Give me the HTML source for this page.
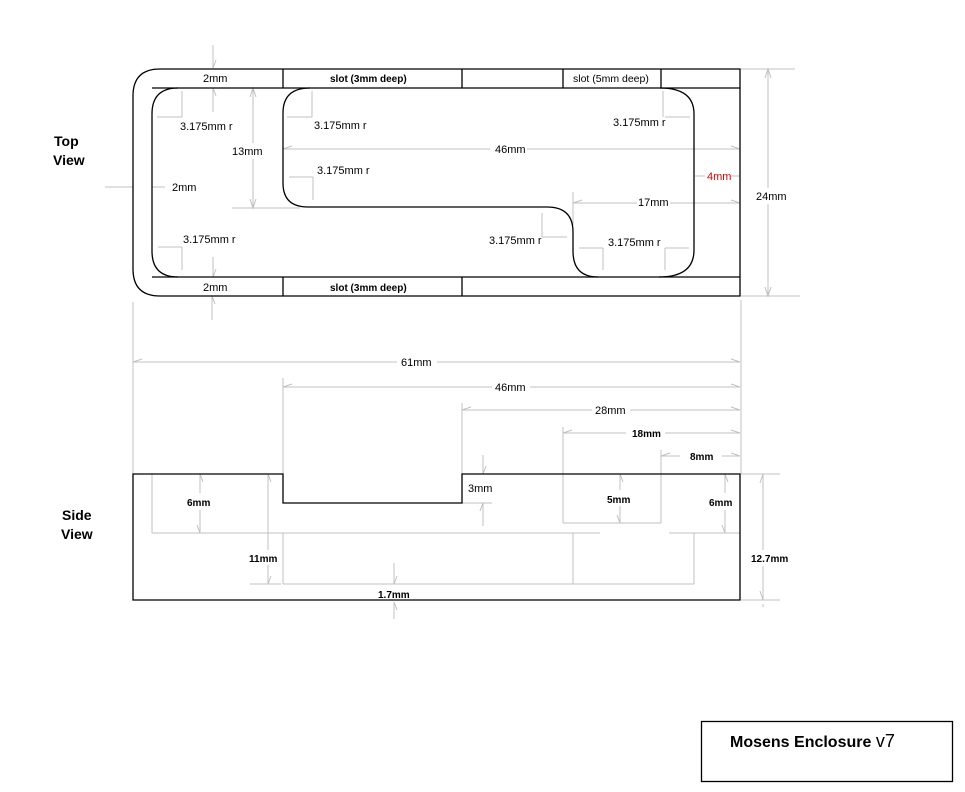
<!DOCTYPE html>
<html><head><meta charset="utf-8"><style>
html,body{margin:0;padding:0;background:#fff;}
svg{display:block;}
text{font-family:"Liberation Sans",sans-serif;font-size:11px;fill:#000;}
.b{font-weight:bold;font-size:10px;}
.d{stroke:#c0c0c0;stroke-width:1;fill:none;}
.k{stroke:#000;stroke-width:1.3;fill:none;}
</style></head><body>
<svg width="965" height="792" viewBox="0 0 965 792" xmlns="http://www.w3.org/2000/svg">
<!-- ===== TOP VIEW ===== -->
<g class="d">
  <line x1="741" y1="69" x2="795" y2="69"/><line x1="741" y1="296" x2="800" y2="296"/>
  <line x1="768" y1="69" x2="768" y2="188"/><line x1="768" y1="204" x2="768" y2="296"/>
  <path d="M765 78 L768 69 L771 78 M765 287 L768 296 L771 287"/>
  <line x1="283" y1="149" x2="490" y2="149"/><line x1="527" y1="149" x2="740" y2="149"/>
  <path d="M292 146 L283 149 M731 146 L740 149"/>
  <line x1="573" y1="203" x2="637" y2="203"/><line x1="670" y1="203" x2="740" y2="203"/>
  <line x1="573" y1="192" x2="573" y2="225"/>
  <path d="M582 200 L573 203 M731 200 L740 203"/>
  <line x1="695" y1="176" x2="705" y2="176"/><line x1="730" y1="176" x2="740" y2="176"/>
  <line x1="253" y1="88" x2="253" y2="143"/><line x1="253" y1="159" x2="253" y2="208"/>
  <line x1="232" y1="208" x2="300" y2="208"/>
  <path d="M250 97 L253 88 L256 97 M250 199 L253 208 L256 199"/>
  <line x1="213" y1="45" x2="213" y2="68"/><line x1="213" y1="88" x2="213" y2="112"/>
  <path d="M213 68 L216 60 M213 88 L216 96"/>
  <line x1="213" y1="257" x2="213" y2="277"/><line x1="212" y1="296" x2="212" y2="320"/>
  <path d="M213 277 L216 269 M212 296 L215 304"/>
  <line x1="105" y1="187" x2="133" y2="187"/><line x1="152" y1="187" x2="165" y2="187"/>
  <line x1="157" y1="117" x2="182" y2="117"/><line x1="182" y1="91" x2="182" y2="117"/>
  <line x1="287" y1="117" x2="312" y2="117"/><line x1="312" y1="91" x2="312" y2="117"/>
  <line x1="289" y1="177" x2="313" y2="177"/><line x1="313" y1="177" x2="313" y2="200"/>
  <line x1="158" y1="247" x2="182" y2="247"/><line x1="182" y1="247" x2="182" y2="270"/>
  <line x1="665" y1="117" x2="690" y2="117"/><line x1="663" y1="91" x2="663" y2="117"/>
  <line x1="542" y1="237" x2="567" y2="237"/><line x1="542" y1="213" x2="542" y2="237"/>
  <line x1="579" y1="248" x2="603" y2="248"/><line x1="603" y1="248" x2="603" y2="270"/>
  <line x1="665" y1="248" x2="689" y2="248"/><line x1="665" y1="248" x2="665" y2="270"/>
  <line x1="133" y1="302" x2="133" y2="474"/><line x1="741" y1="300" x2="741" y2="474"/>
  <line x1="283" y1="378" x2="283" y2="474"/><line x1="462" y1="403" x2="462" y2="474"/>
  <line x1="563" y1="427" x2="563" y2="523"/><line x1="661" y1="450" x2="661" y2="523"/>
  <line x1="133" y1="362" x2="397" y2="362"/><line x1="437" y1="362" x2="740" y2="362"/>
  <path d="M142 359 L133 362 M731 359 L740 362"/>
  <line x1="283" y1="387" x2="492" y2="387"/><line x1="530" y1="387" x2="740" y2="387"/>
  <path d="M292 384 L283 387 M731 384 L740 387"/>
  <line x1="462" y1="410" x2="592" y2="410"/><line x1="630" y1="410" x2="740" y2="410"/>
  <path d="M471 407 L462 410 M731 407 L740 410"/>
  <line x1="563" y1="433" x2="626" y2="433"/><line x1="665" y1="433" x2="740" y2="433"/>
  <path d="M572 430 L563 433 M731 430 L740 433"/>
  <line x1="661" y1="456" x2="680" y2="456"/><line x1="722" y1="456" x2="740" y2="456"/>
  <path d="M670 453 L661 456 M731 453 L740 456"/>
</g>
<g class="k">
  <path d="M160 69 L740 69 L740 296 L160 296 Q133 296 133 269 L133 96 Q133 69 160 69 Z"/>
  <line x1="152" y1="88" x2="740" y2="88"/>
  <line x1="152" y1="277" x2="740" y2="277"/>
  <line x1="283" y1="69" x2="283" y2="88"/><line x1="462" y1="69" x2="462" y2="88"/>
  <line x1="563" y1="69" x2="563" y2="88"/><line x1="661" y1="69" x2="661" y2="88"/>
  <line x1="283" y1="277" x2="283" y2="296"/><line x1="462" y1="277" x2="462" y2="296"/>
  <path d="M178 88 Q152 88 152 114 L152 251 Q152 277 178 277"/>
  <path d="M310 88 Q283 88 283 113 L283 183 Q283 207 308 207 L547 207 Q573 207 573 232 L573 251 Q573 277 598 277 M659 277 Q694 277 694 250 L694 114 Q694 88 660 88"/>
</g>
<text x="203" y="82">2mm</text>
<text x="330" y="82" class="b">slot (3mm deep)</text>
<text x="573" y="82" style="font-size:10.5px">slot  (5mm deep)</text>
<text x="203" y="291">2mm</text>
<text x="330" y="291" class="b">slot (3mm deep)</text>
<text x="180" y="130">3.175mm r</text>
<text x="314" y="129">3.175mm r</text>
<text x="317" y="174">3.175mm r</text>
<text x="183" y="243">3.175mm r</text>
<text x="613" y="126">3.175mm r</text>
<text x="489" y="244">3.175mm r</text>
<text x="608" y="246">3.175mm r</text>
<text x="232" y="155">13mm</text>
<text x="172" y="191">2mm</text>
<text x="495" y="153">46mm</text>
<text x="638" y="206">17mm</text>
<text x="707" y="180" style="fill:#e00000">4mm</text>
<text x="756" y="200">24mm</text>
<text x="401" y="366">61mm</text>
<text x="495" y="391">46mm</text>
<text x="595" y="414">28mm</text>
<text x="632" y="437" class="b">18mm</text>
<text x="690" y="460" class="b">8mm</text>
<text x="54" y="146" style="font-weight:bold;font-size:14px">Top</text>
<text x="53" y="165" style="font-weight:bold;font-size:14px">View</text>

<!-- ===== SIDE VIEW ===== -->
<g class="d">
  <line x1="152" y1="474" x2="152" y2="533"/>
  <line x1="152" y1="533" x2="600" y2="533"/>
  <line x1="669" y1="533" x2="740" y2="533"/>
  <line x1="200" y1="474" x2="200" y2="493"/><line x1="200" y1="510" x2="200" y2="533"/>
  <path d="M200 474 L203 482 M200 533 L197 525"/>
  <line x1="268" y1="474" x2="268" y2="550"/><line x1="268" y1="565" x2="268" y2="584"/>
  <path d="M268 474 L271 482 M268 584 L271 576"/>
  <line x1="250" y1="584" x2="281" y2="584"/>
  <line x1="283" y1="584" x2="694" y2="584"/>
  <line x1="283" y1="533" x2="283" y2="584"/>
  <line x1="573" y1="533" x2="573" y2="584"/>
  <line x1="694" y1="533" x2="694" y2="584"/>
  <line x1="563" y1="523" x2="661" y2="523"/>
  <line x1="620" y1="474" x2="620" y2="490"/><line x1="620" y1="506" x2="620" y2="523"/>
  <path d="M620 474 L623 482 M620 523 L617 515"/>
  <line x1="725" y1="474" x2="725" y2="493"/><line x1="725" y1="510" x2="725" y2="533"/>
  <path d="M725 474 L728 482 M725 533 L722 525"/>
  <line x1="483" y1="455" x2="483" y2="474"/><line x1="483" y1="503" x2="483" y2="526"/>
  <line x1="462" y1="503" x2="492" y2="503"/>
  <path d="M483 474 L486 466 M483 503 L480 511"/>
  <line x1="394" y1="563" x2="394" y2="584"/><line x1="394" y1="602" x2="394" y2="619"/>
  <path d="M394 584 L397 576 M394 602 L397 610"/>
  <line x1="741" y1="474" x2="780" y2="474"/><line x1="741" y1="600" x2="780" y2="600"/>
  <line x1="763" y1="474" x2="763" y2="550"/><line x1="763" y1="566" x2="763" y2="600"/>
  <path d="M760 483 L763 474 M760 591 L763 600"/>
  <line x1="763" y1="604" x2="763" y2="607"/>
</g>
<path class="k" d="M133 474 L283 474 L283 503 L462 503 L462 474 L740 474 L740 600 L133 600 Z"/>
<text x="187" y="506" class="b">6mm</text>
<text x="249" y="562" class="b">11mm</text>
<text x="378" y="598" class="b">1.7mm</text>
<text x="468" y="492">3mm</text>
<text x="607" y="503" class="b">5mm</text>
<text x="709" y="506" class="b">6mm</text>
<text x="751" y="562" class="b">12.7mm</text>
<text x="62" y="520" style="font-weight:bold;font-size:14px">Side</text>
<text x="61" y="539" style="font-weight:bold;font-size:14px">View</text>

<rect x="701.5" y="721.5" width="251" height="60" fill="none" stroke="#000" stroke-width="1.3"/>
<text x="730" y="747" style="font-weight:bold;font-size:16px">Mosens Enclosure  <tspan style="font-weight:normal;font-size:18px">v7</tspan></text>
</svg>
</body></html>
